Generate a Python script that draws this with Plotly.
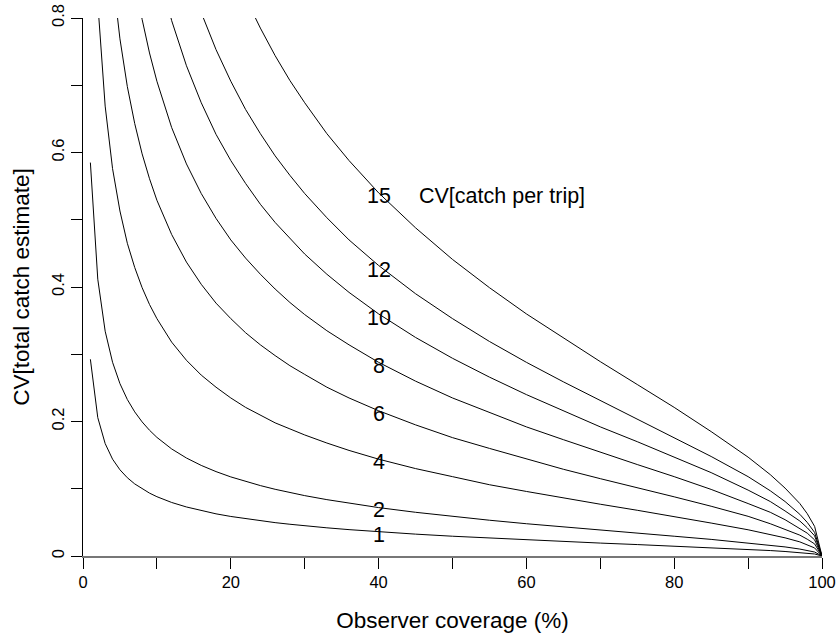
import plotly.graph_objects as go

# Observer coverage (%) at which each curve was read
coverage = [1, 2, 3, 4, 5, 6, 7, 8, 9, 10,
            12, 14, 16, 18, 20,
            22, 24, 26, 28, 30,
            33, 36, 40,
            45, 50, 55, 60, 65, 70, 75, 80, 85, 90,
            93, 95, 97, 98, 99, 100]

# CV[total catch estimate], one list per CV[catch per trip]
cv_1 = [0.2925, 0.2058, 0.1672, 0.1440, 0.1282, 0.1164, 0.1072, 0.0997, 0.0935, 0.0882,
        0.0796, 0.0729, 0.0674, 0.0627, 0.0588,
        0.0554, 0.0523, 0.0496, 0.0472, 0.0449,
        0.0419, 0.0392, 0.0360,
        0.0325, 0.0294, 0.0266, 0.0240, 0.0216, 0.0192, 0.0170, 0.0147, 0.0124, 0.0098,
        0.0081, 0.0067, 0.0052, 0.0042, 0.0030, 0.0]
cv_2 = [0.585, 0.4116, 0.3343, 0.2881, 0.2563, 0.2327, 0.2143, 0.1994, 0.1870, 0.1764,
        0.1592, 0.1457, 0.1347, 0.1255, 0.1176,
        0.1107, 0.1047, 0.0992, 0.0943, 0.0898,
        0.0838, 0.0784, 0.0720,
        0.0650, 0.0588, 0.0532, 0.0480, 0.0431, 0.0385, 0.0340, 0.0294, 0.0247, 0.0196,
        0.0161, 0.0135, 0.0103, 0.0084, 0.0059, 0.0]
cv_4 = [None,
        0.823, 0.669, 0.576, 0.513, 0.465, 0.429, 0.399, 0.374, 0.353,
        0.318, 0.291, 0.269, 0.251, 0.235,
        0.221, 0.209, 0.198, 0.189, 0.180,
        0.168, 0.157, 0.144,
        0.130, 0.118, 0.106, 0.096, 0.086, 0.077, 0.068, 0.059, 0.049, 0.039,
        0.032, 0.027, 0.021, 0.017, 0.012, 0.0]
cv_6 = [None, None, None,
        0.864, 0.769, 0.698, 0.643, 0.598, 0.561, 0.529,
        0.478, 0.437, 0.404, 0.376, 0.353,
        0.332, 0.314, 0.298, 0.283, 0.270,
        0.251, 0.235, 0.216,
        0.195, 0.176, 0.160, 0.144, 0.129, 0.115, 0.102, 0.088, 0.074, 0.059,
        0.048, 0.040, 0.031, 0.025, 0.018, 0.0]
cv_8 = [None, None, None, None, None, None,
        0.857, 0.798, 0.748, 0.706,
        0.637, 0.583, 0.539, 0.502, 0.470,
        0.443, 0.419, 0.397, 0.377, 0.359,
        0.335, 0.314, 0.288,
        0.260, 0.235, 0.213, 0.192, 0.173, 0.154, 0.136, 0.118, 0.099, 0.078,
        0.065, 0.054, 0.041, 0.034, 0.024, 0.0]
cv_10 = [None, None, None, None, None, None, None, None, None,
         0.882,
         0.796, 0.729, 0.674, 0.627, 0.588,
         0.554, 0.523, 0.496, 0.472, 0.449,
         0.419, 0.392, 0.360,
         0.325, 0.294, 0.266, 0.240, 0.216, 0.192, 0.170, 0.147, 0.124, 0.098,
         0.081, 0.067, 0.052, 0.042, 0.030, 0.0]
cv_12 = [None, None, None, None, None, None, None, None, None, None,
         None, 0.874, 0.808, 0.753, 0.706,
         0.664, 0.628, 0.595, 0.566, 0.539,
         0.503, 0.470, 0.432,
         0.390, 0.353, 0.319, 0.288, 0.259, 0.231, 0.204, 0.176, 0.148, 0.118,
         0.097, 0.081, 0.062, 0.050, 0.035, 0.0]
cv_15 = [None, None, None, None, None, None, None, None, None, None,
         None, None, None, None, 0.882,
         0.830, 0.785, 0.744, 0.707, 0.674,
         0.628, 0.588, 0.540,
         0.488, 0.441, 0.399, 0.360, 0.324, 0.289, 0.255, 0.221, 0.185, 0.147,
         0.121, 0.101, 0.078, 0.063, 0.044, 0.0]

curves = [cv_1, cv_2, cv_4, cv_6, cv_8, cv_10, cv_12, cv_15]
curve_labels = ["1", "2", "4", "6", "8", "10", "12", "15"]
label_x = 40
label_y = [0.031, 0.068, 0.140, 0.211, 0.283, 0.354, 0.426, 0.535]
legend_title = "CV[catch per trip]"
legend_title_x = 45.2

x_ticks = [0, 20, 40, 60, 80, 100]
y_ticks = [0, 0.2, 0.4, 0.6, 0.8]

FONT = "Liberation Sans, Arial, sans-serif"
TXT = 21.5
AX_TITLE = 22.5

fig = go.Figure()
for ys in curves:
    fig.add_trace(go.Scatter(x=coverage, y=ys, mode="lines",
                             line=dict(color="black", width=1),
                             connectgaps=False, showlegend=False,
                             hoverinfo="skip"))

for lab, yv in zip(curve_labels, label_y):
    fig.add_annotation(x=label_x, y=yv, text=lab, showarrow=False,
                       xanchor="center", yanchor="middle",
                       font=dict(family=FONT, size=TXT, color="black"))
fig.add_annotation(x=legend_title_x, y=label_y[-1], text=legend_title,
                   showarrow=False, xanchor="left", yanchor="middle",
                   font=dict(family=FONT, size=TXT, color="black"))

fig.update_layout(
    width=839, height=638,
    margin=dict(l=83, r=17, t=18, b=82, pad=0, autoexpand=False),
    paper_bgcolor="white", plot_bgcolor="white",
    font=dict(family=FONT, color="black"),
    showlegend=False,
)
fig.update_xaxes(
    range=[0, 100], tickvals=x_ticks, ticktext=[str(v) for v in x_ticks],
    ticks="outside", ticklen=11, tickwidth=1, tickcolor="black",
    minor=dict(dtick=10, tick0=0, ticks="outside", ticklen=11,
               tickcolor="black", tickwidth=1),
    showline=True, linecolor="#777777", linewidth=1.5,
    showgrid=False, zeroline=False, automargin=False,
    tickfont=dict(family=FONT, size=16.5, color="black"),
    title=dict(text="Observer coverage (%)",
               font=dict(family=FONT, size=AX_TITLE, color="black"), standoff=22),
)
fig.update_yaxes(
    range=[0, 0.8], tickvals=y_ticks, ticktext=["0", "0.2", "0.4", "0.6", "0.8"],
    ticks="outside", ticklen=11, tickwidth=1, tickcolor="black",
    minor=dict(dtick=0.1, tick0=0, ticks="outside", ticklen=11,
               tickcolor="black", tickwidth=1),
    showline=True, linecolor="black", linewidth=1,
    showgrid=False, zeroline=False, tickangle=-90, automargin=False,
    tickfont=dict(family=FONT, size=16.5, color="black"),
    title=dict(text="CV[total catch estimate]",
               font=dict(family=FONT, size=AX_TITLE, color="black"), standoff=13),
)

fig.write_html("out.html",
               config={"displayModeBar": False, "staticPlot": True},
               post_script="document.body.style.margin='0';document.body.style.overflow='hidden';")
